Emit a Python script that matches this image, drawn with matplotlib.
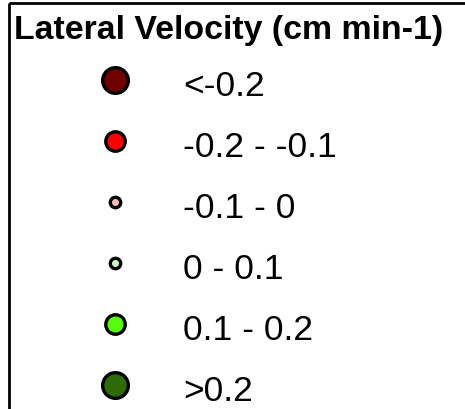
import matplotlib.pyplot as plt
from matplotlib.patches import Rectangle

# legend classes for lateral velocity
labels = ['<-0.2', '-0.2 - -0.1', '-0.1 - 0', '0 - 0.1', '0.1 - 0.2', '>0.2']
colors = ['#6e0000', '#ff0000', '#f5b9b9', '#cff5c0', '#55ff0a', '#2e6a05']
marker_sizes = [18.5, 14, 7.5, 7.5, 14, 18.5]

title = 'Lateral Velocity (cm min-1)'

plt.rcParams['font.family'] = ['Liberation Sans', 'DejaVu Sans']

fig = plt.figure(figsize=(4.65, 4.10), dpi=100)
ax = fig.add_axes([0, 0, 1, 1])
ax.set_xlim(0, 465)
ax.set_ylim(410, 0)
ax.axis('off')

# frame runs off the right and bottom edges
ax.add_patch(Rectangle((8.5, 4), 500, 500, fill=False, edgecolor='black',
                       linewidth=2.0))

ax.text(14, 39.5, title, fontsize=24.4, fontweight='bold', ha='left',
        va='baseline')

for i, (lab, col, ms) in enumerate(zip(labels, colors, marker_sizes)):
    y = 81 + 61 * i
    ax.plot([115], [y], marker='o', markersize=ms, markerfacecolor=col,
            markeredgecolor='black', markeredgewidth=2.4, linestyle='none')
    ax.text(183, y + 15, lab, fontsize=25.5, ha='left', va='baseline')

fig.savefig('out.png', dpi=100)
